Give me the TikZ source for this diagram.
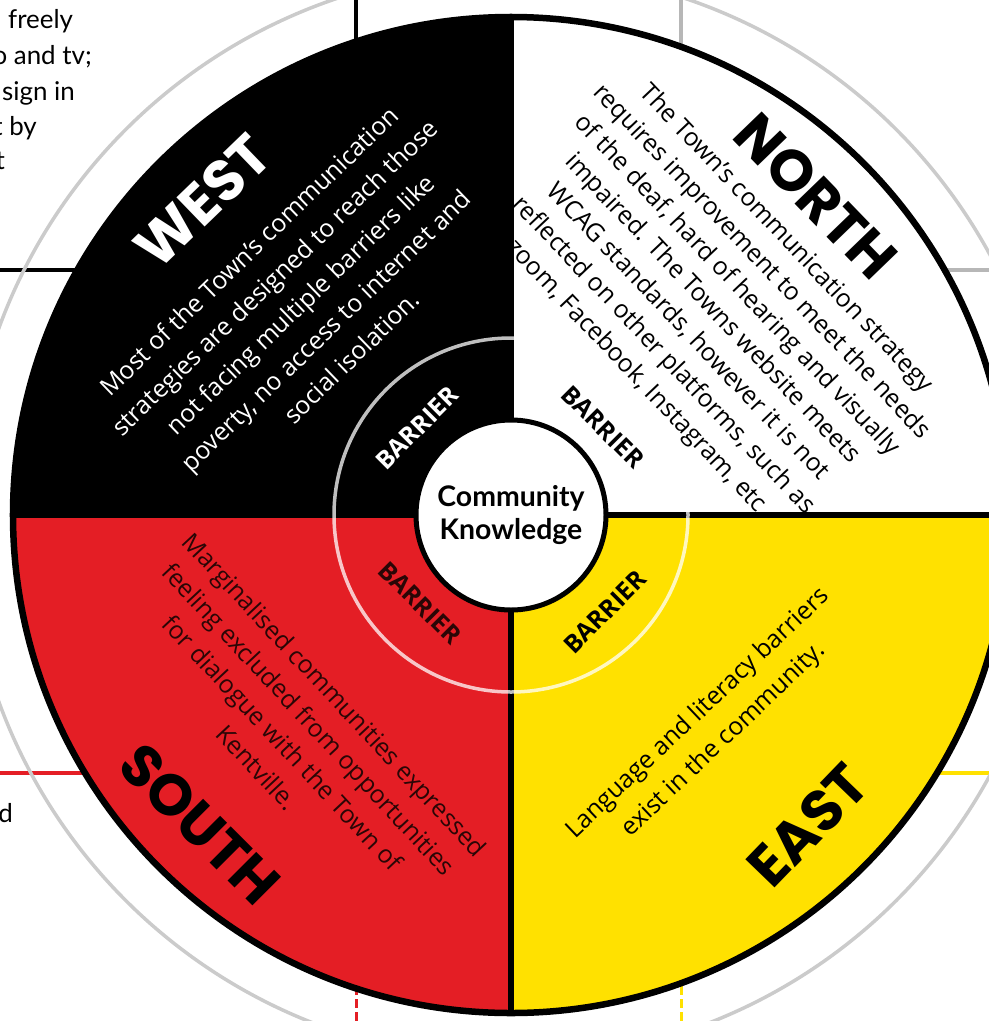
\documentclass[tikz,border=0pt]{standalone}
\usepackage{fontspec}
\setmainfont{Open Sans}
\newfontfamily\gillf{Lato}
\newfontfamily\titlef{Poppins}
\definecolor{wred}{HTML}{E41E25}
\definecolor{wyel}{HTML}{FFE100}
\definecolor{ringgray}{HTML}{CBCBCB}
\definecolor{sdark}{HTML}{2A0606}
\tikzset{
  body/.style={font=\fontsize{25}{37}\selectfont, align=center, inner sep=0pt},
  dirtitle/.style={font=\titlef\bfseries\fontsize{58}{58}\selectfont, inner sep=0pt},
  barrierlbl/.style={font=\bfseries\fontsize{25}{25}\selectfont, inner sep=0pt},
  sidetext/.style={font=\gillf\fontsize{26}{26}\selectfont, inner sep=0pt, anchor=base west},
  bgline/.style={line width=4bp},
}
\begin{document}
\begin{tikzpicture}[x=1bp,y=-1bp]
\useasboundingbox (0,0) rectangle (989,1021);
\coordinate (c) at (511,515);
% ---- background lines (behind wheel)
\coordinate (tb1) at (356,-5);   \coordinate (tb2) at (356,60);
\coordinate (tg1) at (681,-5);   \coordinate (tg2) at (681,60);
\coordinate (lb1) at (-5,270);   \coordinate (lb2) at (100,270);
\coordinate (rg1) at (900,270);  \coordinate (rg2) at (995,270);
\coordinate (lr1) at (-5,773);   \coordinate (lr2) at (100,773);
\coordinate (ry1) at (900,773);  \coordinate (ry2) at (995,773);
\coordinate (br1) at (356,960);  \coordinate (br2) at (356,1030);
\coordinate (by1) at (681,960);  \coordinate (by2) at (681,1030);
\draw[bgline, black] (tb1) -- (tb2);
\draw[bgline, ringgray!90!black] (tg1) -- (tg2);
\draw[bgline, black] (lb1) -- (lb2);
\draw[bgline, ringgray!90!black] (rg1) -- (rg2);
\draw[bgline, wred] (lr1) -- (lr2);
\draw[bgline, wyel] (ry1) -- (ry2);
\draw[line width=3bp, wred, dash pattern=on 9bp off 4bp] (br1) -- (br2);
\draw[line width=3bp, wyel, dash pattern=on 9bp off 4bp] (by1) -- (by2);
% ---- outer pale ring
\draw[ringgray, line width=3.5bp] (c) circle[radius=545bp];
% ---- quadrants
\begin{scope}
  \clip (c) circle[radius=498bp];
  \fill[black] (0,0) rectangle (c);
  \fill[white] (c) rectangle (1100,0);
  \fill[wred] (c) rectangle (0,1100);
  \fill[wyel] (c) rectangle (1100,1100);
  \draw[black, line width=6bp] (0,515) -- (1100,515);
  \draw[black, line width=6bp] (511,0) -- (511,1100);
\end{scope}
\draw[white, opacity=0.75, line width=3.5bp] (c) circle[radius=177bp];
\draw[black, line width=6.5bp] (c) circle[radius=498bp];
\node[circle, fill=white, draw=black, line width=5bp, minimum size=190bp, inner sep=0pt,
      font=\gillf\bfseries\fontsize{28.5}{33}\selectfont, align=center] (ck) at (c) {Community\\Knowledge};
% ---- barrier labels
\node[barrierlbl, white, rotate=45]  (bw) at (417,428) {BARRIER};
\node[barrierlbl, black, rotate=-45] (bn) at (603,427) {BARRIER};
\node[barrierlbl, sdark, rotate=-45] (bs) at (420,603) {BARRIER};
\node[barrierlbl, black, rotate=45]  (be) at (605,612) {BARRIER};
% ---- direction titles
\node[dirtitle, white, rotate=44]  (tw) at (203,201) {WEST};
\node[dirtitle, black, rotate=-46] (tn) at (816,196) {NORTH};
\node[dirtitle, black, rotate=-45] (ts) at (200,824) {SOUTH};
\node[dirtitle, black, rotate=46]  (te) at (808,825) {EAST};
% ---- body texts
\node[body, white, rotate=44] (xw) at (300,304) {Most of the Town’s communication\\strategies are designed to reach those\\not facing multiple barriers like\\poverty, no access to internet and\\social isolation.};
\node[body, black, rotate=-46.5, font=\fontsize{25}{34}\selectfont] (xn) at (712,309) {The Town’s communication strategy\\requires improvement to meet the needs\\of the deaf, hard of hearing and visually\\impaired. The Towns website meets\\WCAG standards, however it is not\\reflected on other platforms, such as\\zoom, Facebook, Instagram, etc.};
\node[body, sdark, rotate=-47, font=\fontsize{25}{35.5}\selectfont] (xs) at (296,731) {Marginalised communities expressed\\feeling excluded from opportunities\\for dialogue with the Town of\\Kentville.};
\node[body, black, rotate=43.5] (xe) at (711,727) {Language and literacy barriers\\exist in the community.};
% ---- cut-off side text
\node[sidetext] (s1) at (8,28) {freely};
\node[sidetext, anchor=base east] (s2) at (92,64) {o and tv;};
\node[sidetext] (s3) at (2,100) {sign in};
\node[sidetext, anchor=base east] (s4) at (37,135) {t by};
\node[sidetext, anchor=base east] (s5) at (5,169) {t};
\node[sidetext, anchor=base east] (s6) at (13,822) {d};
\end{tikzpicture}
\end{document}
